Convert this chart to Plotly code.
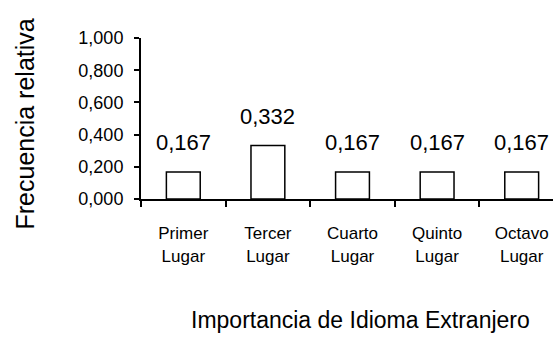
import plotly.graph_objects as go

categories = ["Primer<br>Lugar", "Tercer<br>Lugar", "Cuarto<br>Lugar", "Quinto<br>Lugar", "Octavo<br>Lugar"]
values = [0.167, 0.332, 0.167, 0.167, 0.167]
y_ticks = [0.0, 0.2, 0.4, 0.6, 0.8, 1.0]
x_title = "Importancia de Idioma Extranjero"
y_title = "Frecuencia relativa"

ARIAL = "Liberation Sans, Arial, sans-serif"

fig = go.Figure()
fig.add_trace(go.Bar(
    x=categories, y=values, width=0.40,
    marker=dict(color="white", line=dict(color="black", width=1.5)),
    hoverinfo="skip",
))

annotations = []
for c, v in zip(categories, values):
    annotations.append(dict(
        x=c, y=v, xref="x", yref="y", text=f"{v:.3f}".replace(".", ","),
        showarrow=False, yanchor="bottom", yshift=15,
        font=dict(family=ARIAL, size=22, color="black"),
    ))
annotations.append(dict(
    x=0.532, y=-0.75, xref="paper", yref="paper", text=x_title, showarrow=False,
    xanchor="center", yanchor="middle", font=dict(family=ARIAL, size=23, color="black"),
))
annotations.append(dict(
    x=0, y=0.5, xref="paper", yref="paper", xshift=-117, yshift=-6, text=y_title,
    textangle=-90, showarrow=False, xanchor="center", yanchor="middle",
    font=dict(family=ARIAL, size=25, color="black"),
))

fig.update_layout(
    width=553, height=342,
    margin=dict(l=141, r=0, t=38, b=143),
    paper_bgcolor="white", plot_bgcolor="white",
    separators=",.",
    showlegend=False,
    annotations=annotations,
)
fig.update_xaxes(
    range=[-0.5, 4.37], showline=True, linecolor="black", linewidth=2,
    ticks="outside", tickson="boundaries", ticklen=6, tickwidth=1.5, tickcolor="black",
    tickfont=dict(family=ARIAL, size=17, color="black"), ticklabelstandoff=18,
    showgrid=False, zeroline=False, fixedrange=True,
)
fig.update_yaxes(
    range=[0, 1], tickvals=y_ticks, tickformat=".3f", showline=True, linecolor="black", linewidth=2,
    ticks="outside", ticklen=5, tickwidth=1.5, tickcolor="black",
    tickfont=dict(family=ARIAL, size=18, color="black"), ticklabelstandoff=7,
    showgrid=False, zeroline=False, fixedrange=True,
)

fig.write_html("out.html", config={"displayModeBar": False},
               post_script="document.body.style.margin='0';")
